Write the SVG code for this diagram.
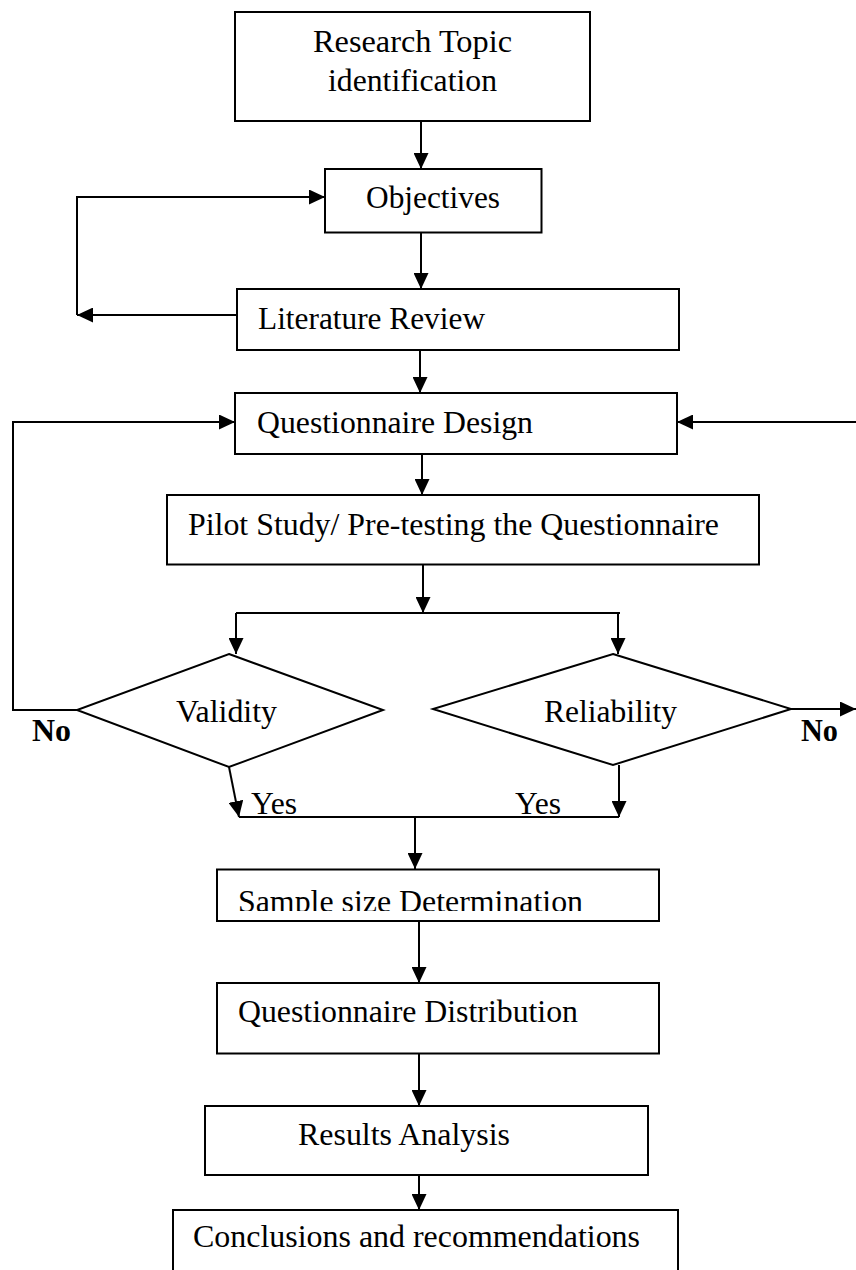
<svg xmlns="http://www.w3.org/2000/svg" width="856" height="1270" viewBox="0 0 856 1270">
<style>
.box{fill:#fff;stroke:#000;stroke-width:2}
.lbl{font-family:"Liberation Serif","Times New Roman",serif;font-size:32px;fill:#000}
.bold{font-weight:bold}
.con{fill:none;stroke:#000;stroke-width:2}
</style>
<defs>
<marker id="ah" markerUnits="userSpaceOnUse" markerWidth="16" markerHeight="15" viewBox="0 0 16 15" refX="16" refY="7.5" orient="auto">
<path d="M0,0 L16,7.5 L0,15 z" fill="#000"/>
</marker>
<clipPath id="clipSample"><rect x="217" y="869" width="442" height="42"/></clipPath>
</defs>
<rect width="856" height="1270" fill="#fff"/>
<g id="connectors">
<path class="con" d="M421,121 V169" marker-end="url(#ah)"/>
<path class="con" d="M421,232 V289" marker-end="url(#ah)"/>
<path class="con" d="M237,315 H77" marker-end="url(#ah)"/>
<path class="con" d="M77,315 V197 H325" marker-end="url(#ah)"/>
<path class="con" d="M420,350 V393" marker-end="url(#ah)"/>
<path class="con" d="M77,710 H13 V422 H235" marker-end="url(#ah)"/>
<path class="con" d="M856,422 H677" marker-end="url(#ah)"/>
<path class="con" d="M422,454 V495" marker-end="url(#ah)"/>
<path class="con" d="M423,564 V613" marker-end="url(#ah)"/>
<path class="con" d="M236,613 H620"/>
<path class="con" d="M236,613 V654" marker-end="url(#ah)"/>
<path class="con" d="M618,613 V654" marker-end="url(#ah)"/>
<path class="con" d="M791,709 H856" marker-end="url(#ah)"/>
<path class="con" d="M229,767 L239,817" marker-end="url(#ah)"/>
<path class="con" d="M619,765 V817" marker-end="url(#ah)"/>
<path class="con" d="M239,817 H619"/>
<path class="con" d="M415,817 V869" marker-end="url(#ah)"/>
<path class="con" d="M419,921 V983" marker-end="url(#ah)"/>
<path class="con" d="M419,1053 V1106" marker-end="url(#ah)"/>
<path class="con" d="M419,1175 V1210" marker-end="url(#ah)"/>
</g>
<g id="research">
<rect class="box" x="235" y="12" width="355" height="109"/>
<text class="lbl" x="313" y="52" textLength="199" lengthAdjust="spacingAndGlyphs">Research Topic</text>
<text class="lbl" x="328" y="91" textLength="169" lengthAdjust="spacingAndGlyphs">identification</text>
</g>
<g id="objectives">
<rect class="box" x="325" y="169" width="216.5" height="63.5"/>
<text class="lbl" x="366" y="208" textLength="134" lengthAdjust="spacingAndGlyphs">Objectives</text>
</g>
<g id="literature">
<rect class="box" x="237" y="289" width="442" height="61"/>
<text class="lbl" x="258" y="329" textLength="227" lengthAdjust="spacingAndGlyphs">Literature Review</text>
</g>
<g id="questionnaire-design">
<rect class="box" x="235" y="393" width="442" height="61"/>
<text class="lbl" x="257" y="433" textLength="276" lengthAdjust="spacingAndGlyphs">Questionnaire Design</text>
</g>
<g id="pilot">
<rect class="box" x="167" y="495" width="592" height="69.5"/>
<text class="lbl" x="188" y="535" textLength="531" lengthAdjust="spacingAndGlyphs">Pilot Study/ Pre-testing the Questionnaire</text>
</g>
<g id="validity">
<polygon class="box" points="229,654 383,710 229,767 77,710"/>
<text class="lbl" x="176" y="722" textLength="101" lengthAdjust="spacingAndGlyphs">Validity</text>
<text class="lbl bold" x="32" y="741" textLength="39" lengthAdjust="spacingAndGlyphs">No</text>
<text class="lbl" x="251" y="814" textLength="46" lengthAdjust="spacingAndGlyphs">Yes</text>
</g>
<g id="reliability">
<polygon class="box" points="613,654 791,709 613,765 433,709"/>
<text class="lbl" x="544" y="722" textLength="133" lengthAdjust="spacingAndGlyphs">Reliability</text>
<text class="lbl bold" x="801" y="741" textLength="37" lengthAdjust="spacingAndGlyphs">No</text>
<text class="lbl" x="515" y="814" textLength="46" lengthAdjust="spacingAndGlyphs">Yes</text>
</g>
<g id="sample">
<rect class="box" x="217" y="869.5" width="442" height="51.5"/>
<text class="lbl" x="238" y="911.5" textLength="345" lengthAdjust="spacingAndGlyphs" clip-path="url(#clipSample)">Sample size Determination</text>
</g>
<g id="distribution">
<rect class="box" x="217" y="983" width="442" height="70.5"/>
<text class="lbl" x="238" y="1022" textLength="340" lengthAdjust="spacingAndGlyphs">Questionnaire Distribution</text>
</g>
<g id="results">
<rect class="box" x="205" y="1106" width="443" height="69"/>
<text class="lbl" x="298" y="1145" textLength="212" lengthAdjust="spacingAndGlyphs">Results Analysis</text>
</g>
<g id="conclusions">
<rect class="box" x="173" y="1210" width="505" height="80"/>
<text class="lbl" x="193" y="1247" textLength="447" lengthAdjust="spacingAndGlyphs">Conclusions and recommendations</text>
</g>
</svg>
